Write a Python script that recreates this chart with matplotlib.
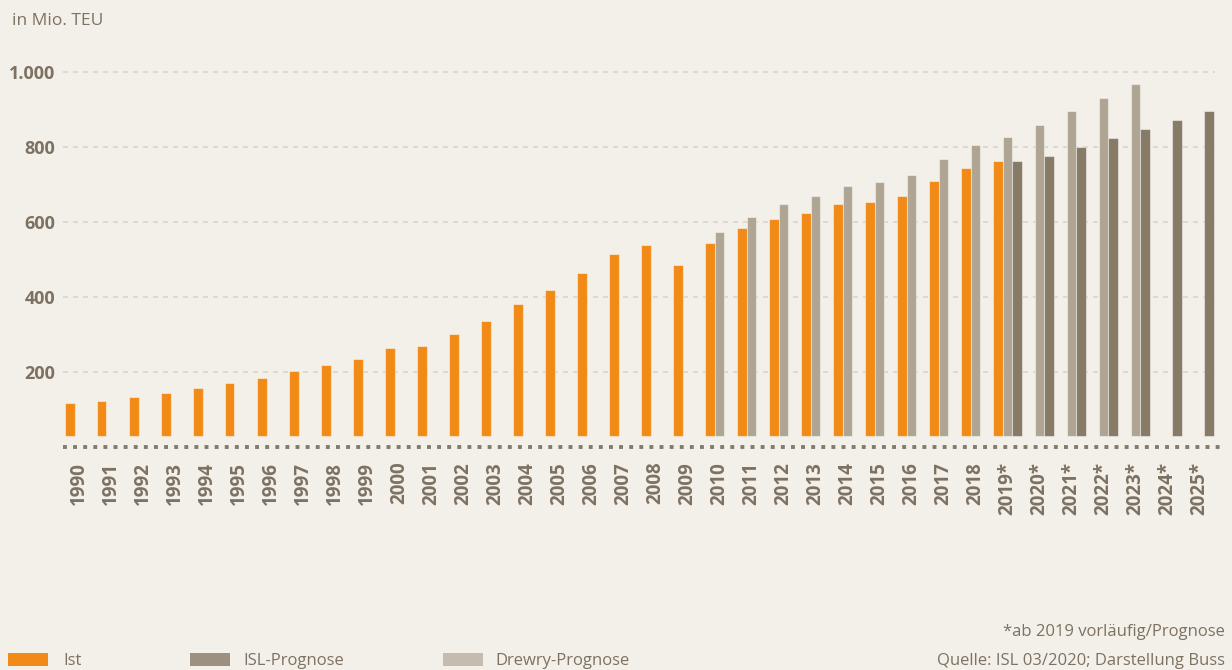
import numpy as np
import matplotlib.pyplot as plt
from matplotlib.patches import Rectangle

# categories (years)
years = list(range(1990, 2026))
year_labels = [str(y) + ("*" if y >= 2019 else "") for y in years]

# Mio. TEU
ist_years = list(range(1990, 2020))
ist = [115, 121, 132, 143, 156, 169, 184, 201, 217, 234,
       262, 269, 300, 335, 379, 417, 462, 514, 537, 483,
       544, 582, 606, 623, 647, 652, 668, 709, 743, 761]

drewry_years = list(range(2010, 2024))
drewry = [572, 613, 648, 668, 696, 706, 724, 768, 805, 826,
          857, 895, 929, 967]

isl_years = list(range(2019, 2026))
isl = [761, 774, 798, 822, 846, 871, 895]

yticks = [200, 400, 600, 800, 1000]
ytick_labels = ["200", "400", "600", "800", "1.000"]

# styling
BG = "#f3f0ea"
TEXT = "#7d7161"
C_IST = "#f28a17"
C_DREWRY = "#b0a493"
C_ISL = "#877a66"
BASE = 29     # bars float slightly above the axis line
W = 0.30      # width of a single bar (category units)

plt.rcParams["font.family"] = ["Open Sans", "DejaVu Sans"]

fig = plt.figure(figsize=(12.32, 6.70), dpi=100, facecolor=BG)
ax = fig.add_axes([63.3 / 1232, 1 - 446.5 / 670, 1152 / 1232, (446.5 - 68) / 670])
ax.set_facecolor(BG)


def xpos(yrs):
    return np.array([years.index(y) for y in yrs], dtype=float)


edge = dict(edgecolor=(1, 1, 1, 0.45), linewidth=0.8)
ax.bar(xpos(ist_years) - W, np.array(ist) - BASE, bottom=BASE, width=W,
       color=C_IST, zorder=3, **edge)
ax.bar(xpos(drewry_years), np.array(drewry) - BASE, bottom=BASE, width=W,
       color=C_DREWRY, zorder=3, **edge)
ax.bar(xpos(isl_years) + W, np.array(isl) - BASE, bottom=BASE, width=W,
       color=C_ISL, zorder=3, **edge)

ax.set_xlim(-0.5, len(years) - 0.5)
ax.set_ylim(0, 1010)

for v in yticks:
    ax.axhline(v, color="#d9d4cb", lw=1.2, linestyle=(0, (3, 3)), zorder=1)
ax.axhline(0, xmin=0.0, xmax=1.005, color="#85796a", lw=2.8,
           linestyle=(0, (1.0, 1.6)), clip_on=False, zorder=2)

ax.set_yticks(yticks)
ax.set_yticklabels(ytick_labels, fontsize=13, fontweight="bold", color=TEXT)
ax.set_xticks(np.arange(len(years)))
ax.set_xticklabels(year_labels, rotation=90, fontsize=13.5, fontweight="bold",
                   color=TEXT, va="top", ha="center")
ax.tick_params(axis="x", length=0, pad=11)
ax.tick_params(axis="y", length=0, pad=6)
for s in ax.spines.values():
    s.set_visible(False)

fig.text(12 / 1232, 1 - 21 / 670, "in Mio. TEU", fontsize=12.5, color=TEXT,
         va="center", ha="left")

# legend
legend_items = [("Ist", "#f28a17", 8, 63),
                ("ISL-Prognose", "#9e9080", 190, 243),
                ("Drewry-Prognose", "#c5bbaf", 443, 495)]
for label, col, sx, tx in legend_items:
    fig.add_artist(Rectangle((sx / 1232, 1 - 666 / 670), 40 / 1232, 13 / 670,
                             transform=fig.transFigure, facecolor=col,
                             edgecolor="none"))
    fig.text(tx / 1232, 1 - 661 / 670, label, fontsize=12, color=TEXT,
             va="center", ha="left")

fig.text(1225 / 1232, 1 - 632 / 670, "*ab 2019 vorläufig/Prognose",
         fontsize=12, color=TEXT, va="center", ha="right")
fig.text(1225 / 1232, 1 - 661 / 670, "Quelle: ISL 03/2020; Darstellung Buss",
         fontsize=12, color=TEXT, va="center", ha="right")

fig.savefig("out.png", dpi=100, facecolor=BG)
